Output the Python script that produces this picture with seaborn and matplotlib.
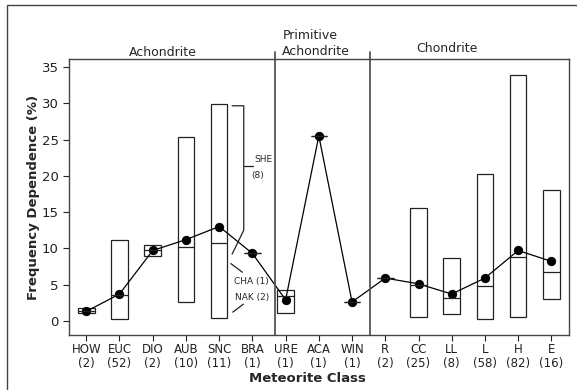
import pandas as pd
import numpy as np
import seaborn as sns
import matplotlib.pyplot as plt
from matplotlib.patches import Rectangle

# meteorite classes and sample counts
classes = ['HOW', 'EUC', 'DIO', 'AUB', 'SNC', 'BRA', 'URE', 'ACA', 'WIN',
           'R', 'CC', 'LL', 'L', 'H', 'E']
counts = [2, 52, 2, 10, 11, 1, 1, 1, 1, 2, 25, 8, 58, 82, 16]

# range (min / max), median and mean of frequency dependence (%)
mins = [1.05, 0.2, 9.0, 2.55, 0.35, 9.3, 1.05, 25.5, 2.6, 5.9, 0.6, 1.0, 0.2, 0.6, 3.0]
medians = [1.4, 3.5, 9.8, 10.2, 10.7, 9.3, 3.4, 25.5, 2.6, 5.9, 5.0, 3.2, 4.75, 8.8, 6.7]
maxs = [1.8, 11.1, 10.4, 25.4, 29.9, 9.3, 4.3, 25.5, 2.6, 5.9, 15.5, 8.6, 20.3, 33.9, 18.0]
means = [1.3, 3.7, 9.7, 11.2, 13.0, 9.3, 2.9, 25.5, 2.6, 5.9, 5.1, 3.7, 5.9, 9.7, 8.2]

# box = min..max with median line -> feed [min, min, med, max, max] to boxplot
rows = []
for c, lo, md, hi in zip(classes, mins, medians, maxs):
    for v in [lo, lo, md, hi, hi]:
        rows.append({'cls': c, 'val': v})
df = pd.DataFrame(rows)

sns.set_style('ticks')
plt.rcParams['font.family'] = ['DejaVu Sans']

fig = plt.figure(figsize=(5.77, 3.9), dpi=100)
ax = fig.add_axes([69 / 577, 1 - 335 / 390, 500 / 577, 276 / 390])

dark = '#222222'
sns.boxplot(data=df, x='cls', y='val', order=classes, width=0.5, color='white',
            linecolor=dark, linewidth=0.9, showcaps=False, fliersize=0,
            whiskerprops={'linewidth': 0}, ax=ax)
sns.pointplot(x=classes, y=means, order=classes, color='black', markers='o',
              markersize=6, linewidth=0.9, errorbar=None, ax=ax)

ax.set_xlim(-0.52, 14.53)
ax.set_ylim(-1.95, 36.1)
ax.set_yticks(range(0, 36, 5))
ax.set_xticks(range(len(classes)))
ax.set_xticklabels([f'{c}\n({n})' for c, n in zip(classes, counts)], fontsize=8.5,
                   linespacing=1.1, color=dark)
ax.tick_params(axis='y', labelsize=9.5, length=4, width=0.8, color=dark, labelcolor=dark)
ax.tick_params(axis='x', length=4, width=0.8, color=dark, pad=2)
for s in ax.spines.values():
    s.set_visible(True)
    s.set_color('#444444')
    s.set_linewidth(1.0)

ax.set_xlabel('Meteorite Class', fontsize=9.5, fontweight='bold')
ax.set_ylabel('Frequency Dependence (%)', fontsize=9.5, fontweight='bold')
ax.xaxis.set_label_coords(0.476, -0.135)
ax.yaxis.set_label_coords(-0.058, 0.5)

# group separators (reach above the frame)
for xs in [5.68, 8.53]:
    ax.plot([xs, xs], [-1.95, 37.05], color='#555555', lw=1.3, clip_on=False)

ax.text(2.31, 37.05, 'Achondrite', ha='center', va='center', fontsize=9)
ax.text(5.9, 38.3, 'Primitive\nAchondrite', ha='left', va='center', fontsize=9,
        linespacing=1.3)
ax.text(10.86, 37.6, 'Chondrite', ha='center', va='center', fontsize=9)

# SNC sub-group annotations
ax.plot([4.39, 4.74, 4.74, 4.39], [29.65, 29.65, 12.5, 9.2], color=dark, lw=0.9)
ax.plot([4.74, 5.02], [21.3, 21.3], color=dark, lw=0.9)
ax.text(5.05, 22.2, 'SHE', fontsize=6.5, va='center', ha='left')
ax.text(5.17, 20.1, '(8)', fontsize=6.5, va='center', ha='center')
ax.plot([4.35, 4.70], [7.9, 6.7], color=dark, lw=0.9)
ax.text(4.97, 5.4, 'CHA (1)', fontsize=6.5, va='center', ha='center')
ax.plot([4.41, 4.73], [1.2, 2.3], color=dark, lw=0.9)
ax.text(4.99, 3.2, 'NAK (2)', fontsize=6.5, va='center', ha='center')

# outer frame of the scanned figure
fig.add_artist(Rectangle((7 / 577, -0.05), 1.2, 1 - 5 / 390 + 0.05, transform=fig.transFigure,
                         fill=False, edgecolor='#444444', lw=1.0))

fig.savefig('out.png', dpi=100)
